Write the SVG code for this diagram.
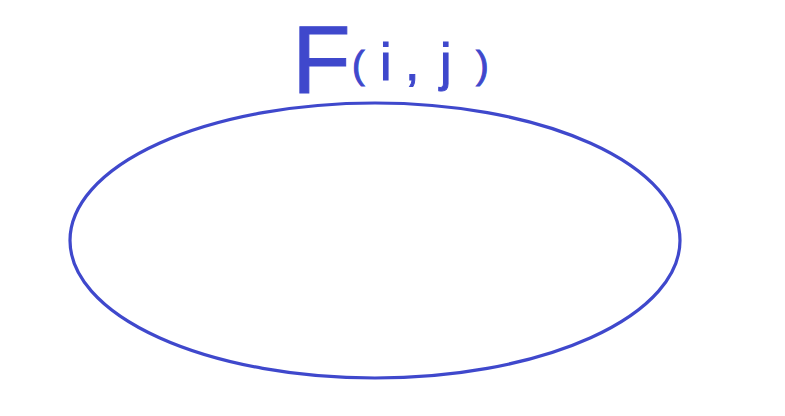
<svg xmlns="http://www.w3.org/2000/svg" width="785" height="416" viewBox="0 0 785 416">
<style>
.ink{fill:none;stroke:#3f48cc;stroke-width:3.2}
.lbl{font-family:"Liberation Sans",Arial,sans-serif;fill:#3f48cc;stroke:#3f48cc;stroke-width:1}
.big{font-size:96px}
.sm{font-size:52px}
.par{font-size:38px}
</style>
<rect width="785" height="416" fill="#ffffff"/>
<g id="node-F">
<ellipse class="ink" cx="375" cy="240.5" rx="305" ry="137.5"/>
<text class="lbl" x="292" y="93"><tspan class="big" x="292" y="93">F</tspan><tspan class="par" x="352" y="78">(</tspan><tspan class="sm" x="380" y="80">i</tspan><tspan class="sm" x="405" y="80">,</tspan><tspan class="sm" x="440" y="80">j</tspan><tspan class="par" x="476" y="78">)</tspan></text>
</g>
<g id="connectors"/>
</svg>
